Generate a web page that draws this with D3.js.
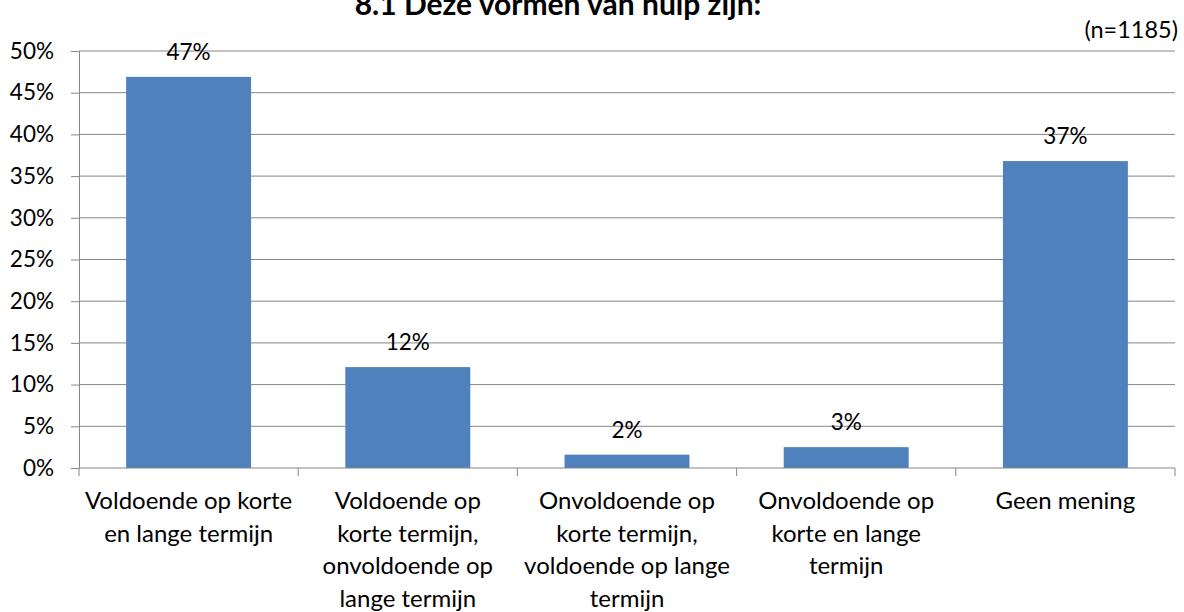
<!DOCTYPE html>
<html>
<head>
<meta charset="utf-8">
<script src="https://cdn.jsdelivr.net/npm/d3@7"></script>
<style>
  body { margin: 0; background: #fff; }
  text { font-family: "Lato", sans-serif; fill: #000; }
</style>
</head>
<body>
<svg id="chart" width="1184" height="612"></svg>
<script>
  const categories = [
    ["Voldoende op korte", "en lange termijn"],
    ["Voldoende op", "korte termijn,", "onvoldoende op", "lange termijn"],
    ["Onvoldoende op", "korte termijn,", "voldoende op lange", "termijn"],
    ["Onvoldoende op", "korte en lange", "termijn"],
    ["Geen mening"]
  ];
  const values = [0.469, 0.121, 0.016, 0.025, 0.368];
  const valueLabels = ["47%", "12%", "2%", "3%", "37%"];
  const yTicks = [0, 0.05, 0.1, 0.15, 0.2, 0.25, 0.3, 0.35, 0.4, 0.45, 0.5];

  const svg = d3.select("#chart");
  const plotL = 79, plotR = 1175, plotT = 51, plotB = 468;
  const fsNum = 22.5, fsCat = 24;

  const x = d3.scaleBand()
    .domain(d3.range(categories.length))
    .range([plotL, plotR])
    .paddingInner(0.43)
    .paddingOuter(0.215);

  const y = d3.scaleLinear().domain([0, 0.5]).range([plotB, plotT]);

  // gridlines
  svg.append("g")
    .selectAll("line")
    .data(yTicks.slice(1))
    .join("line")
    .attr("x1", plotL).attr("x2", plotR)
    .attr("y1", d => y(d)).attr("y2", d => y(d))
    .attr("stroke", "#868686").attr("stroke-width", 1);

  // y axis
  const yAxis = svg.append("g")
    .attr("transform", `translate(${plotL},0)`)
    .call(d3.axisLeft(y).tickValues(yTicks).tickFormat(d3.format(".0%")).tickSize(8).tickPadding(17));
  yAxis.select(".domain").attr("stroke", "#868686");
  yAxis.selectAll(".tick line").attr("stroke", "#868686");
  yAxis.selectAll("text").attr("font-size", fsNum).attr("font-family", "Lato, sans-serif");

  // bars
  svg.append("g")
    .selectAll("rect")
    .data(values)
    .join("rect")
    .attr("x", (d, i) => x(i))
    .attr("width", x.bandwidth())
    .attr("y", d => y(d))
    .attr("height", d => plotB - y(d))
    .attr("fill", "#4F81BD");

  // value labels
  svg.append("g")
    .selectAll("text")
    .data(values)
    .join("text")
    .attr("x", (d, i) => x(i) + x.bandwidth() / 2)
    .attr("y", d => y(d) - 17)
    .attr("text-anchor", "middle")
    .attr("font-size", fsNum)
    .text((d, i) => valueLabels[i]);

  // x axis
  const step = (plotR - plotL) / categories.length;
  const xb = svg.append("g");
  xb.append("line")
    .attr("x1", plotL).attr("x2", plotR)
    .attr("y1", plotB).attr("y2", plotB)
    .attr("stroke", "#868686");
  xb.selectAll("line.tk")
    .data(d3.range(categories.length + 1))
    .join("line")
    .attr("class", "tk")
    .attr("x1", i => plotL + i * step).attr("x2", i => plotL + i * step)
    .attr("y1", plotB).attr("y2", plotB + 8)
    .attr("stroke", "#868686");

  const catText = svg.append("g")
    .selectAll("text")
    .data(categories)
    .join("text")
    .attr("x", (d, i) => x(i) + x.bandwidth() / 2)
    .attr("y", 509)
    .attr("text-anchor", "middle")
    .attr("font-size", fsCat);
  catText.selectAll("tspan")
    .data(d => d)
    .join("tspan")
    .attr("x", function () { return this.parentNode.getAttribute("x"); })
    .attr("dy", (d, i) => i === 0 ? 0 : 32.6)
    .text(d => d);

  // title
  svg.append("text")
    .attr("x", 558).attr("y", 15)
    .attr("text-anchor", "middle")
    .attr("font-size", 30)
    .attr("font-weight", "bold")
    .text("8.1 Deze vormen van hulp zijn:");

  svg.append("text")
    .attr("x", 1178).attr("y", 38)
    .attr("text-anchor", "end")
    .attr("font-size", 23.5)
    .text("(n=1185)");
</script>
</body>
</html>
